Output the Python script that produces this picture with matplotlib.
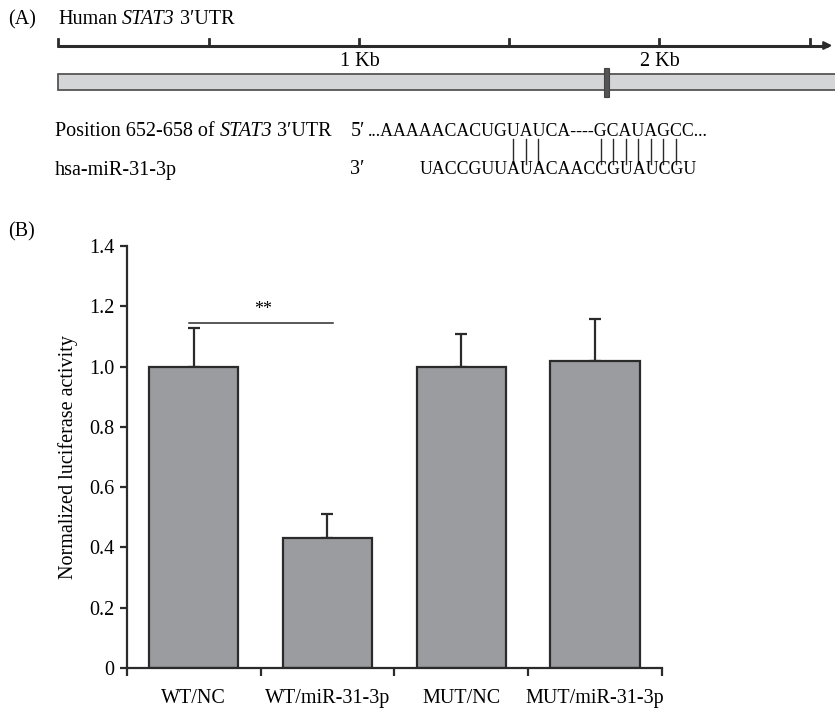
import matplotlib
matplotlib.use("Agg")
import matplotlib.pyplot as plt
from matplotlib.patches import Rectangle

# Data
categories = ["WT/NC", "WT/miR-31-3p", "MUT/NC", "MUT/miR-31-3p"]
values = [1.0, 0.432, 1.0, 1.018]
err_top = [1.129, 0.511, 1.108, 1.159]
yticks = [0, 0.2, 0.4, 0.6, 0.8, 1.0, 1.2, 1.4]
ytick_labels = ["0", "0.2", "0.4", "0.6", "0.8", "1.0", "1.2", "1.4"]

utr_seq = "...AAAAACACUGUAUCA----GCAUAGCC..."
mir_seq = "UACCGUUAUACAACCGUAUCGU"
kb_labels = ["1 Kb", "2 Kb"]

plt.rcParams["font.family"] = ["Liberation Serif", "DejaVu Serif"]

W, H = 835, 711
fig = plt.figure(figsize=(W / 100, H / 100), dpi=100)
renderer = fig.canvas.get_renderer()
dark = "#2b2b2b"
fs = 14.5


def chain_text(ax, x, y, parts, size):
    """Write text pieces one after another, (string, style) tuples."""
    for s, style in parts:
        t = ax.text(x, y, s, fontsize=size, style=style, va="center", ha="left")
        x = t.get_window_extent(renderer).x1 + size * 0.25 * 100 / 72
    return x


# ---- Panel A: schematic drawn in pixel coordinates ----
axA = fig.add_axes([0, 0, 1, 1])
axA.set_xlim(0, W)
axA.set_ylim(H, 0)
axA.axis("off")

axA.text(8, 20, "(A)", fontsize=fs, va="center", ha="left")
chain_text(axA, 58, 20, [("Human", "normal"), ("STAT3", "italic"), ("3′UTR", "normal")], fs)

# scale line with ticks and arrow
axA.plot([58, 828], [45.5, 45.5], color=dark, lw=2.2, solid_capstyle="butt")
axA.annotate("", xy=(835, 45.5), xytext=(824, 45.5),
             arrowprops=dict(arrowstyle="-|>", color=dark, lw=1.5, mutation_scale=12))
for tx in [58, 208.5, 358.5, 509, 659, 810]:
    axA.plot([tx, tx], [39, 45.5], color=dark, lw=2)
axA.text(360, 62, kb_labels[0], fontsize=fs, va="center", ha="center")
axA.text(660, 62, kb_labels[1], fontsize=fs, va="center", ha="center")

# UTR bar and binding site
axA.add_patch(Rectangle((58, 74), 800, 16, facecolor="#d4d5d7", edgecolor="#555555", lw=1.3))
axA.add_patch(Rectangle((604, 68), 4.5, 29, facecolor="#555555", edgecolor="#444444", lw=0.8))

# sequence alignment
chain_text(axA, 55, 132, [("Position 652-658 of", "normal"), ("STAT3", "italic"),
                          ("3′UTR", "normal")], fs)
axA.text(351, 132, "5′", fontsize=fs, va="center", ha="left")
axA.text(368, 132, utr_seq, fontsize=12.8, va="center", ha="left")
axA.text(55, 170, "hsa-miR-31-3p", fontsize=fs, va="center", ha="left")
axA.text(350, 170, "3′", fontsize=fs, va="center", ha="left")
axA.text(420, 170, mir_seq, fontsize=12.8, va="center", ha="left")
for lx in [513, 525.7, 538, 600.7, 613, 625.7, 638, 650.7, 663, 676]:
    axA.plot([lx, lx], [139, 164], color=dark, lw=1)

axA.text(8, 232, "(B)", fontsize=fs, va="center", ha="left")

# ---- Panel B: bar chart ----
left, right = 126.7, 662
bottom, top = 668, 246
axB = fig.add_axes([left / W, (H - bottom) / H, (right - left) / W, (bottom - top) / H])
axB.set_facecolor("none")

x = range(len(categories))
err_up = [e - v for e, v in zip(err_top, values)]
axB.bar(x, values, width=0.667, color="#9b9c9f", edgecolor=dark, linewidth=1.6, zorder=2)
axB.errorbar(x, values, yerr=[[0] * len(values), err_up], fmt="none",
             ecolor=dark, elinewidth=1.6, capsize=4, capthick=1.6, zorder=1)

axB.set_xlim(-0.5, 3.5)
axB.set_ylim(0, 1.4)
axB.set_yticks(yticks)
axB.set_yticklabels(ytick_labels, fontsize=fs)
axB.set_xticks(list(x))
axB.set_xticklabels(categories, fontsize=fs)
axB.set_xticks([-0.5, 0.5, 1.5, 2.5, 3.5], minor=True)
axB.tick_params(axis="x", which="major", length=0, pad=15)
axB.tick_params(axis="x", which="minor", length=6, width=1.6, direction="out", color=dark)
axB.tick_params(axis="y", length=5, width=1.6, color=dark, pad=4)
axB.set_ylabel("Normalized luciferase activity", fontsize=fs, labelpad=8)

for side in ["top", "right"]:
    axB.spines[side].set_visible(False)
for side in ["left", "bottom"]:
    axB.spines[side].set_linewidth(1.6)
    axB.spines[side].set_color(dark)

# significance line
axB.plot([-0.035, 1.045], [1.146, 1.146], color=dark, lw=1.1)
axB.text(0.52, 1.16, "**", fontsize=13, ha="center", va="bottom")

fig.savefig("out.png", dpi=100)
